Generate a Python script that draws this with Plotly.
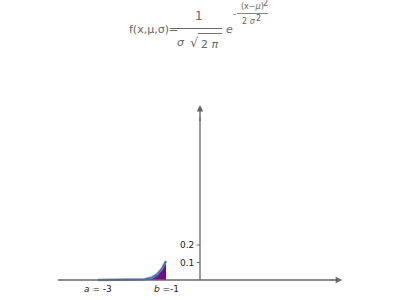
import numpy as np
import plotly.graph_objects as go

# Distribution parameters and integration bounds
mu = 0.0
sigma = 0.5
a = -3
b = -1
y_ticks = [0.1, 0.2]
y_tick_labels = ["0.1", "0.2"]
x_labels = ["<i>a</i> = -3", "<i>b</i> =-1"]

xs = np.linspace(a, b, 120)
ys = np.exp(-(xs - mu) ** 2 / (2 * sigma ** 2)) / (sigma * np.sqrt(2 * np.pi))

GRAY = "#666666"
FONT = "DejaVu Sans"

fig = go.Figure()
fig.add_trace(go.Scatter(
    x=xs, y=ys, mode="lines", fill="tozeroy",
    fillgradient=dict(type="horizontal",
                      colorscale=[[0, "#4a6fb0"], [0.6, "#5a3aa0"], [1, "#800080"]]),
    line=dict(color="#6b95cc", width=2.5), hoverinfo="skip", showlegend=False))
fig.add_trace(go.Scatter(
    x=xs, y=ys, mode="lines",
    line=dict(color="#3e6fb3", width=1.2), hoverinfo="skip", showlegend=False))

# axes as arrows
fig.add_shape(type="line", x0=-4.18, x1=3.9, y0=0, y1=0, line=dict(color=GRAY, width=1.3))
fig.add_shape(type="line", x0=0, x1=0, y0=0, y1=0.93, line=dict(color=GRAY, width=1.3))
fig.add_annotation(x=4.18, y=0, ax=3.82, ay=0, xref="x", yref="y", axref="x", ayref="y",
                   showarrow=True, arrowhead=2, arrowsize=1, arrowwidth=1.3,
                   arrowcolor=GRAY, text="")
fig.add_annotation(x=0, y=1.0, ax=0, ay=0.9, xref="x", yref="y", axref="x", ayref="y",
                   showarrow=True, arrowhead=2, arrowsize=1, arrowwidth=1.3,
                   arrowcolor=GRAY, text="")

for t, lab in zip(y_ticks, y_tick_labels):
    fig.add_shape(type="line", x0=-0.1, x1=0, y0=t, y1=t, line=dict(color=GRAY, width=1))
    fig.add_annotation(x=-0.13, y=t, text=lab, showarrow=False, xanchor="right",
                       yanchor="middle", font=dict(family=FONT, size=9, color="#222"))

for xv, lab in zip([a, b], x_labels):
    fig.add_annotation(x=xv, y=-0.05, text=lab, showarrow=False, xanchor="center",
                       yanchor="middle", font=dict(family=FONT, size=9, color="#222"))

# formula
def ptxt(x, y, text, size=10, anchor="left"):
    fig.add_annotation(xref="paper", yref="paper", x=x / 400, y=1 - y / 300, text=text,
                       showarrow=False, xanchor=anchor, yanchor="middle",
                       font=dict(family=FONT, size=size, color=GRAY))

ptxt(127, 29, "f(x,μ,σ)=", 11)
ptxt(199, 16, "1", 12, "center")
fig.add_shape(type="line", xref="paper", yref="paper", x0=177 / 400, x1=222 / 400,
              y0=1 - 28.5 / 300, y1=1 - 28.5 / 300, line=dict(color=GRAY, width=1))
ptxt(181, 43, "<i>σ</i>", 11, "center")
ptxt(194, 42, "√", 13, "center")
ptxt(210, 44, "2 <i>π</i>", 11, "center")
fig.add_shape(type="line", xref="paper", yref="paper", x0=198 / 400, x1=222 / 400,
              y0=1 - 33.5 / 300, y1=1 - 33.5 / 300, line=dict(color=GRAY, width=0.9))
ptxt(229, 30, "<i>e</i>", 11, "center")
ptxt(234, 14, "-", 9, "center")
ptxt(252, 7, "(x−<i>μ</i>)", 8, "center")
ptxt(265, 4, "2", 8, "center")
fig.add_shape(type="line", xref="paper", yref="paper", x0=237 / 400, x1=268 / 400,
              y0=1 - 13.5 / 300, y1=1 - 13.5 / 300, line=dict(color=GRAY, width=0.8))
ptxt(249, 21, "2 <i>σ</i>", 8, "center")
ptxt(258, 18, "2", 8, "center")

fig.update_layout(
    width=400, height=300, margin=dict(l=0, r=0, t=0, b=0),
    paper_bgcolor="white", plot_bgcolor="white",
    xaxis=dict(range=[-200 / 34, 200 / 34], visible=False, fixedrange=True),
    yaxis=dict(range=[-20 / 175, 280 / 175], visible=False, fixedrange=True),
)
fig.write_html("out.html")
